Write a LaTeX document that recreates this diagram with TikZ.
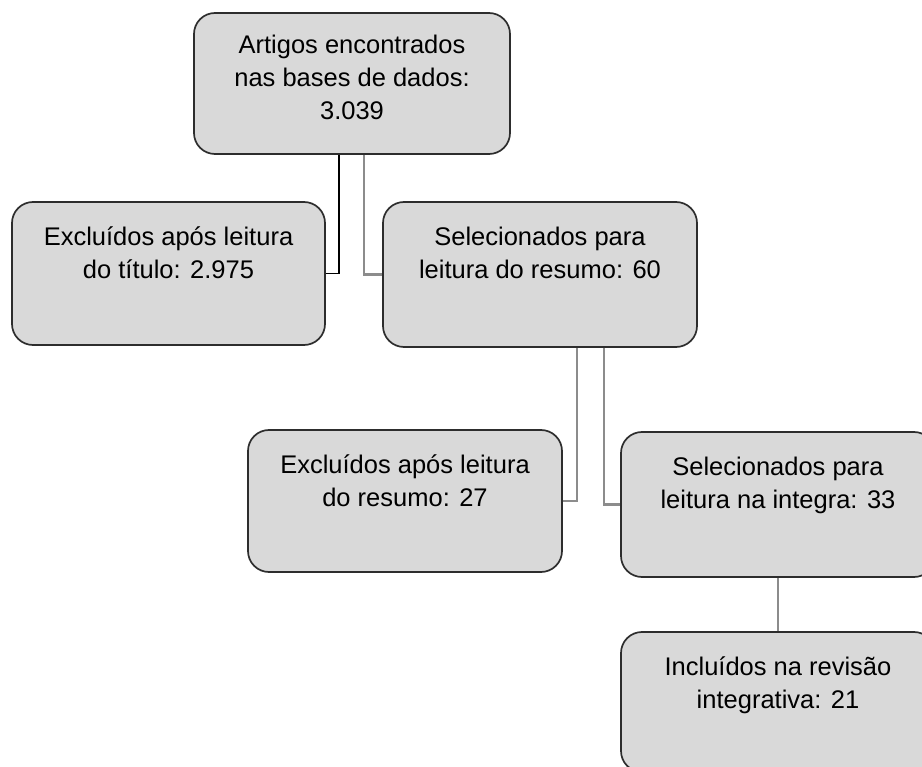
\documentclass[tikz,border=0pt]{standalone}
\usepackage{fontspec}
\setmainfont{Liberation Sans}
\definecolor{boxfill}{RGB}{217,217,217}
\definecolor{boxline}{RGB}{45,45,45}
\definecolor{linkgray}{RGB}{140,140,140}
\begin{document}
\begin{tikzpicture}[x=1pt,y=-1pt,
  box/.style={shape=rectangle, draw=boxline, line width=1.7pt, fill=boxfill,
    rounded corners=21pt, minimum width=314pt, inner sep=0pt},
  txt/.style={anchor=north, align=center, inner sep=0pt,
    font=\fontsize{25.5}{33}\selectfont},
  link/.style={draw=linkgray, line width=2.2pt},
  darklink/.style={draw=black, line width=1.3pt}]
\useasboundingbox (0,0) rectangle (922,767);
\clip (0,0) rectangle (922,767);

\node[box, minimum width=316pt, minimum height=141pt] (top) at (352,83.5) {};
\node[box, minimum width=313pt, minimum height=143pt] (left1) at (168.5,273.5) {};
\node[box, minimum height=145pt] (sel1) at (540,274.5) {};
\node[box, minimum height=142pt] (left2) at (405,501) {};
\node[box, minimum height=145pt] (right2) at (778,504.5) {};
\node[box, minimum height=140pt] (bottom) at (778,702) {};

\node[txt] (ttop) at (352,30) {\strut Artigos encontrados\\\strut nas bases de dados:\\\strut 3.039};
\node[txt] (tleft1) at (168.5,222) {\strut Excluídos após leitura\\\strut do título: 2.975};
\node[txt] (tsel1) at (540,222) {\strut Selecionados para\\\strut leitura do resumo: 60};
\node[txt] (tleft2) at (405,450) {\strut Excluídos após leitura\\\strut do resumo: 27};
\node[txt] (tright2) at (778,452) {\strut Selecionados para\\\strut leitura na integra: 33};
\node[txt] (tbottom) at (778,652) {\strut Incluídos na revisão\\\strut integrativa: 21};

\draw[darklink] ([xshift=-13pt]top.south) |- (left1.east);
\draw[link] ([xshift=12pt]top.south) |- (sel1.west);
\draw[link] ([xshift=37pt]sel1.south) |- (left2.east);
\draw[link] ([xshift=64pt]sel1.south) |- (right2.west);
\draw[link] (right2.south) -- (bottom.north);
\end{tikzpicture}
\end{document}
